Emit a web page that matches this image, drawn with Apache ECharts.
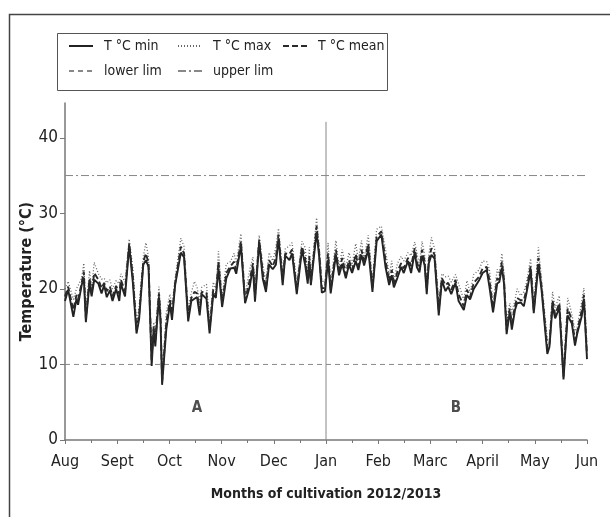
<!DOCTYPE html>
<html>
<head>
<meta charset="utf-8">
<script src="https://cdn.jsdelivr.net/npm/echarts@6/dist/echarts.min.js"></script>
<style>html,body{margin:0;padding:0;background:#fff}#c{width:610px;height:517px}</style>
</head>
<body>
<div id="c"></div>
<script>
// Month tick labels (x axis runs from Aug 2012 = 0 to Jun 2013 = 10)
const monthLabels = ['Aug','Sept','Oct','Nov','Dec','Jan','Feb','Marc','April','May','Jun'];
const yTicks = [0, 10, 20, 30, 40];

// Sampling positions in months since 1 Aug 2012
const monthPos = [0.00,0.06,0.16,0.22,0.25,0.32,0.36,0.40,0.47,0.51,
 0.56,0.64,0.70,0.75,0.80,0.86,0.91,0.98,1.04,1.07,
 1.15,1.23,1.30,1.37,1.42,1.50,1.55,1.60,1.66,1.70,
 1.73,1.80,1.83,1.86,1.94,2.01,2.05,2.11,2.22,2.28,
 2.36,2.42,2.48,2.53,2.58,2.62,2.71,2.77,2.84,2.89,
 2.94,3.01,3.09,3.17,3.24,3.28,3.37,3.45,3.54,3.60,
 3.64,3.72,3.79,3.85,3.91,3.98,4.04,4.09,4.17,4.22,
 4.30,4.35,4.44,4.54,4.60,4.65,4.68,4.71,4.82,4.87,
 4.92,4.98,5.04,5.09,5.19,5.25,5.31,5.38,5.44,5.50,
 5.57,5.62,5.68,5.73,5.81,5.89,5.97,6.06,6.14,6.21,
 6.26,6.30,6.37,6.44,6.49,6.57,6.63,6.70,6.74,6.79,
 6.84,6.89,6.93,6.97,7.02,7.08,7.16,7.22,7.29,7.34,
 7.40,7.48,7.54,7.64,7.70,7.76,7.83,7.93,8.00,8.08,
 8.13,8.20,8.28,8.32,8.37,8.41,8.46,8.52,8.56,8.62,
 8.66,8.73,8.79,8.84,8.92,8.98,9.07,9.13,9.24,9.28,
 9.34,9.39,9.47,9.55,9.63,9.71,9.77,9.81,9.90,9.94,
 10.00];

const tMean = [19.0,20.3,17.2,19.2,18.6,20.8,22.3,16.1,21.4,19.4,
 22.1,21.2,20.1,20.8,19.7,20.3,19.0,20.4,19.3,21.2,
 19.7,26.0,21.6,14.6,16.6,23.6,24.7,23.4,10.5,15.0,
 13.2,19.4,16.3,7.7,15.5,18.5,16.6,20.8,25.6,24.7,
 16.3,18.8,19.6,19.4,17.2,19.6,19.5,14.6,19.9,19.2,
 23.6,18.1,22.1,23.0,23.6,22.5,26.3,18.5,21.2,23.4,
 19.0,26.5,22.1,20.1,23.8,23.0,24.1,27.2,21.2,24.7,
 24.6,25.2,19.9,25.6,24.1,21.2,24.3,20.8,28.3,24.7,
 20.1,20.1,24.7,19.9,25.2,22.1,24.1,21.9,23.8,22.5,
 24.6,23.0,25.2,23.4,26.0,20.1,26.9,27.6,23.8,21.0,
 22.5,20.5,22.3,23.4,22.7,24.1,23.0,25.4,23.6,22.5,
 25.2,23.6,19.9,23.8,25.4,24.5,17.2,21.4,20.5,20.8,
 19.9,21.2,19.3,17.7,19.9,18.9,20.8,21.6,22.7,22.9,
 21.2,17.4,21.4,21.2,23.6,21.2,14.6,17.4,15.5,17.7,
 18.8,18.5,18.5,19.9,23.0,17.2,24.1,20.3,12.1,12.6,
 18.5,16.6,18.1,8.4,17.4,15.9,13.2,14.3,17.2,19.2,
 11.3];

const tMin = [18.4,19.9,16.3,18.7,17.9,20.5,21.5,15.6,20.8,19.0,
 21.2,20.7,19.4,20.5,18.9,19.8,18.4,20.0,18.4,20.7,
 19.0,25.7,20.8,14.1,16.0,23.2,23.8,22.9,9.8,14.7,
 12.4,18.9,15.7,7.3,14.6,18.0,15.9,20.5,24.8,24.2,
 15.7,18.4,18.7,18.9,16.5,19.3,18.7,14.1,19.3,18.8,
 22.7,17.6,21.4,22.7,22.8,22.0,25.7,18.1,20.3,22.9,
 18.3,26.2,21.3,19.6,23.2,22.6,23.2,26.7,20.5,24.4,
 23.8,24.7,19.3,25.2,23.2,20.7,23.6,20.5,27.5,24.2,
 19.5,19.7,23.8,19.4,24.5,21.8,23.3,21.4,23.2,22.1,
 23.7,22.5,24.5,23.1,25.2,19.6,26.3,27.2,22.9,20.5,
 21.8,20.2,21.5,22.9,22.1,23.7,22.1,24.9,22.9,22.2,
 24.4,23.1,19.3,23.4,24.5,24.0,16.5,21.1,19.7,20.3,
 19.3,20.8,18.4,17.2,19.2,18.6,20.0,21.1,22.1,22.5,
 20.3,16.9,20.7,20.9,22.8,20.7,14.0,17.0,14.6,17.2,
 18.1,18.2,17.7,19.4,22.4,16.8,23.2,19.8,11.4,12.3,
 17.7,16.1,17.5,8.0,16.5,15.4,12.5,14.0,16.4,18.7,
 10.7];

const tMax = [20.0,21.0,18.6,20.0,19.8,21.4,23.4,17.0,22.4,20.1,
 23.5,22.0,21.3,21.4,20.8,21.2,20.0,21.1,20.7,22.0,
 20.9,26.6,22.7,15.5,17.6,24.3,26.1,24.2,11.7,15.6,
 14.3,20.3,17.3,8.4,16.9,19.3,17.8,21.4,26.7,25.6,
 17.3,19.5,21.0,20.2,18.4,20.2,20.6,15.5,20.9,19.9,
 25.0,18.9,23.3,23.6,24.7,23.4,27.3,19.2,22.6,24.2,
 20.2,27.1,23.2,21.0,24.8,23.7,25.5,28.0,22.4,25.3,
 25.7,26.1,20.9,26.3,25.5,22.0,25.5,21.4,29.4,25.6,
 21.1,20.8,26.1,20.7,26.4,22.7,25.2,22.8,24.8,23.2,
 26.0,23.8,26.4,24.0,27.1,21.0,27.9,28.3,25.2,21.8,
 23.7,21.1,23.4,24.3,23.7,24.8,24.4,26.2,24.8,23.1,
 26.3,24.5,20.9,24.5,26.8,25.3,18.4,22.0,21.6,21.7,
 20.9,21.9,20.7,18.5,21.1,19.5,21.9,22.5,23.7,23.6,
 22.6,18.2,22.6,21.8,24.7,22.1,15.6,18.1,16.9,18.5,
 20.0,19.1,19.6,20.8,24.0,17.9,25.5,21.1,13.3,13.2,
 19.6,17.5,19.1,9.1,18.8,16.7,14.4,14.9,18.3,20.1,
 12.3];

const lowerLim = 10;
const upperLim = 35;
const dividerMonth = 5;
const periodLabels = ['A', 'B'];

const FONT = '"DejaVu Sans Condensed", "Liberation Sans Narrow", "Liberation Sans", Arial, sans-serif';
const zip = (xs, ys) => xs.map((x, i) => [x, ys[i]]);

const chart = echarts.init(document.getElementById('c'), null, {renderer: 'canvas'});

const legendBase = {
  itemWidth: 24, itemHeight: 10, itemGap: 0,
  itemStyle: {opacity: 0},
  textStyle: {fontFamily: FONT, fontSize: 14, color: '#222', padding: [0,0,0,6]},
  selectedMode: false
};

chart.setOption({
  animation: false,
  backgroundColor: '#fff',
  grid: {left: 65, right: 23, top: 103, bottom: 77, outerBoundsMode: 'none', containLabel: false},
  legend: [
    Object.assign({}, legendBase, {data: ['T \u00B0C min'], left: 63, top: 34}),
    Object.assign({}, legendBase, {data: ['T \u00B0C max'], left: 172, top: 34}),
    Object.assign({}, legendBase, {data: ['T \u00B0C mean'], left: 277, top: 34}),
    Object.assign({}, legendBase, {data: ['lower lim'], left: 63, top: 59}),
    Object.assign({}, legendBase, {data: ['upper lim'], left: 172, top: 59})
  ],
  graphic: [
    {type: 'rect', left: 7, top: 12, shape: {x: 0, y: 0, width: 640, height: 560},
     style: {fill: 'none', stroke: '#444', lineWidth: 1.5}, silent: true, z: -1},
    {type: 'rect', left: 55, top: 31, shape: {x: 0, y: 0, width: 330, height: 57},
     style: {fill: 'none', stroke: '#555', lineWidth: 1}, silent: true, z: -1}
  ],
  xAxis: {
    type: 'value', min: 0, max: 10, interval: 1,
    name: 'Months of cultivation 2012/2013', nameLocation: 'middle', nameGap: 47,
    nameTextStyle: {fontFamily: FONT, fontSize: 14, fontWeight: 'bold', color: '#222'},
    axisLine: {show: true, onZero: false, lineStyle: {color: '#777', width: 1.5}},
    axisTick: {show: true, length: 4, lineStyle: {color: '#777'}},
    minorTick: {show: true, splitNumber: 2, length: 3, lineStyle: {color: '#777'}},
    axisLabel: {fontFamily: FONT, fontSize: 16, color: '#222', margin: 14,
      showMaxLabel: true, formatter: v => monthLabels[Math.round(v)] || ''},
    splitLine: {show: false}
  },
  yAxis: {
    type: 'value', min: 0, max: 44.6, interval: 10,
    name: 'Temperature (\u00B0C)', nameLocation: 'middle', nameGap: 30, nameMoveOverlap: false,
    nameTextStyle: {fontFamily: FONT, fontSize: 16, fontWeight: 'bold', color: '#222'},
    axisLine: {show: true, lineStyle: {color: '#777', width: 1.5}},
    axisTick: {show: true, length: 5, lineStyle: {color: '#777'}, customValues: yTicks},
    axisLabel: {fontFamily: FONT, fontSize: 17, color: '#222', margin: 7, customValues: yTicks},
    splitLine: {show: false}
  },
  series: [
    {name: 'lower lim', type: 'line', symbol: 'none', silent: true, color: '#888',
     data: [[0, lowerLim], [10, lowerLim]],
     lineStyle: {color: '#888', width: 1, type: [5, 4]}, z: 1},
    {name: 'upper lim', type: 'line', symbol: 'none', silent: true, color: '#888',
     data: [[0, upperLim], [10, upperLim]],
     lineStyle: {color: '#888', width: 1, type: [8, 3, 2, 3]}, z: 1},
    {name: 'divider', type: 'line', symbol: 'none', silent: true, color: '#888',
     data: [[dividerMonth, 0], [dividerMonth, 42.1]],
     lineStyle: {color: '#888', width: 1}, z: 1},
    {name: 'T \u00B0C max', type: 'line', symbol: 'none', color: '#666',
     data: zip(monthPos, tMax),
     lineStyle: {color: '#666', width: 1.3, type: [1, 2]}, z: 2},
    {name: 'T \u00B0C min', type: 'line', symbol: 'none', color: '#222',
     data: zip(monthPos, tMin),
     lineStyle: {color: '#222', width: 1.9, type: 'solid'}, z: 3},
    {name: 'T \u00B0C mean', type: 'line', symbol: 'none', color: '#2a2a2a',
     data: zip(monthPos, tMean),
     lineStyle: {color: '#2a2a2a', width: 1.9, type: [6, 3]}, z: 4},
    {name: 'periods', type: 'scatter', symbolSize: 0, silent: true,
     data: [[2.53, 4.2, periodLabels[0]], [7.49, 4.2, periodLabels[1]]],
     label: {show: true, position: 'inside', formatter: p => p.data[2],
       fontFamily: FONT, fontSize: 15, fontWeight: 'bold', color: '#222'}}
  ]
});
</script>
</body>
</html>
